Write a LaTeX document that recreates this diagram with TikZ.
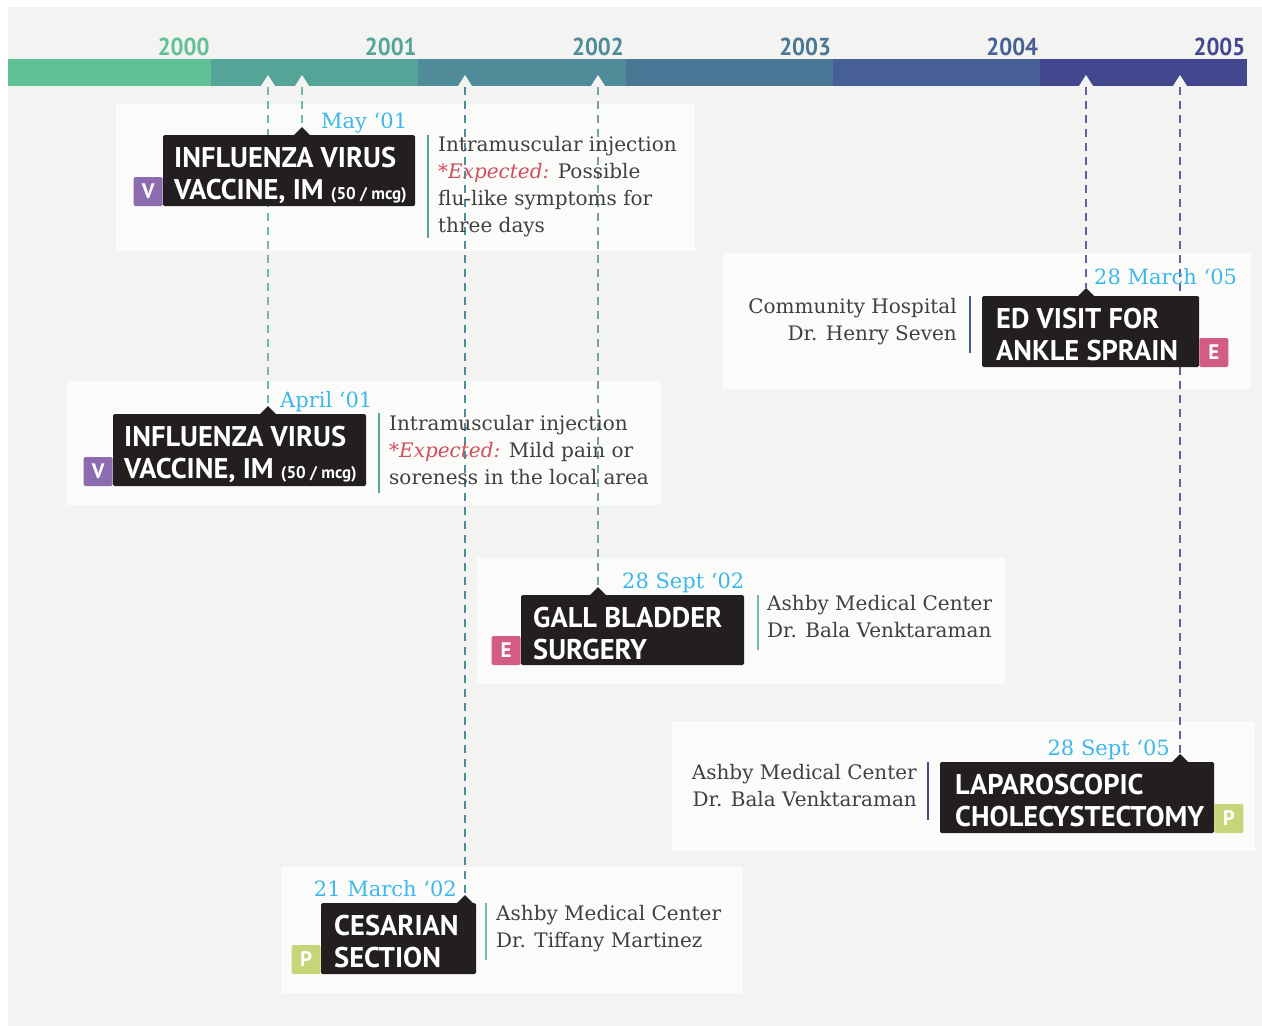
\documentclass[tikz,border=0pt]{standalone}
\usepackage{fontspec}
\setmainfont{DejaVu Serif}
\newfontfamily\dinfont{PT Sans}
\newfontfamily\yearfont[FakeStretch=0.93]{PT Sans}
\usetikzlibrary{positioning}

\definecolor{bggray}{HTML}{F3F3F1}
\definecolor{cardwhite}{HTML}{FBFBFA}
\definecolor{boxblack}{HTML}{231F20}
\definecolor{dateblue}{HTML}{3DB8EA}
\definecolor{txtgray}{HTML}{404040}
\definecolor{expred}{HTML}{CF4F5B}
\definecolor{vpurple}{HTML}{8C6BB1}
\definecolor{epink}{HTML}{D35C85}
\definecolor{pgreen}{HTML}{C5D67A}
\definecolor{yr0}{HTML}{60C196}
\definecolor{yr1}{HTML}{54A597}
\definecolor{yr2}{HTML}{4F8B98}
\definecolor{yr3}{HTML}{4A7795}
\definecolor{yr4}{HTML}{465F94}
\definecolor{yr5}{HTML}{42478F}

\begin{document}
\begin{tikzpicture}
  [x=1pt, y=-1pt,
   card/.style={fill=cardwhite},
   evbox/.style={fill=boxblack, rounded corners=1.5pt, inner sep=0pt},
   boxtxt/.style={anchor=base west, inner sep=0pt, text=white, align=left,
     font=\dinfont\bfseries\fontsize{28.5}{32}\selectfont},
   badge/.style={minimum width=29, minimum height=29, inner sep=0pt, text=white,
     rounded corners=1.5pt, font=\dinfont\bfseries\fontsize{21}{21}\selectfont},
   datelbl/.style={anchor=base west, inner sep=0pt, text=dateblue, font=\fontsize{21}{21}\selectfont},
   desc/.style={anchor=north west, inner sep=0pt, text=txtgray, align=left,
     font=\fontsize{20}{26.8}\selectfont},
   guide/.style={line width=1.1pt, dash pattern=on 8pt off 6pt},
   sepline/.style={line width=1.3pt},
   yearlbl/.style={anchor=base east, inner sep=0pt, font=\yearfont\bfseries\fontsize{24.5}{24}\selectfont}]

  \useasboundingbox (0,0) rectangle (1262,1026);
  \fill[white] (0,0) rectangle (1262,1026);
  \fill[bggray] (8,7) rectangle (1262,1026);

  % time bar
  \foreach \yr/\c [count=\i from 0] in {2000/yr0,2001/yr1,2002/yr2,2003/yr3,2004/yr4,2005/yr5}{
    \fill[\c] ({max(8,4+207.17*\i)},59) rectangle ({4+207.17*(\i+1)},86);
    \node[yearlbl, text=\c] (y\yr) at ({2.5+207.17*(\i+1)},55) {\yr};
  }
  \foreach \x [count=\n] in {268,302,465,598,1086,1180}{
    \fill[bggray] (\x-7,86) -- (\x,75) -- (\x+7,86) -- cycle;
    \coordinate (tick\n) at (\x,87);
  }

  % cards
  \fill[card] (116,104) rectangle (695,251);
  \fill[card] (66,381) rectangle (661,505);
  \fill[card] (723,253) rectangle (1251,389);
  \fill[card] (477,558) rectangle (1005,684);
  \fill[card] (672,721) rectangle (1255,851);
  \fill[card] (281,867) rectangle (743,993);

  % pointers
  \coordinate (may01p) at (302,127);
  \coordinate (apr01p) at (268,406);
  \coordinate (mar05p) at (1086,288);
  \coordinate (sep02p) at (598,587);
  \coordinate (sep05p) at (1180,754);
  \coordinate (mar02p) at (465,895);

  % guides
  \draw[guide, yr1!80] (tick1) -- (apr01p);
  \draw[guide, yr1!80] (tick2) -- (may01p);
  \draw[guide, yr2] (tick3) -- (mar02p);
  \draw[guide, yr2!80] (tick4) -- (sep02p);
  \draw[guide, yr5!85] (tick5) -- (mar05p);
  \draw[guide, yr5!85] (tick6) -- (sep05p);

  % May '01
  \node (may01) [evbox, minimum width=252, minimum height=71] at (289,170.5) {};
  \fill[boxblack] (may01p) -- ++(8,8) -- ++(-16,0) -- cycle;
  \node (may01b) [badge, fill=vpurple, anchor=south east] at (may01.south west) {V};
  \node (may01t) [boxtxt] at (174,199) {INFLUENZA VIRUS\\VACCINE, IM {\dinfont\fontsize{17}{17}\selectfont(50 / mcg)}};
  \node (may01d) [datelbl] at (321,128) {May ‘01};
  \draw[sepline, yr1] (428,135) -- (428,238);
  \node (may01x) [desc] at (438,136.5) {Intramuscular injection\\{\color{expred}\itshape *Expected:} Possible\\flu-like symptoms for\\three days};

  % April '01
  \node (apr01) [evbox, minimum width=253, minimum height=72] at (239.5,450) {};
  \fill[boxblack] (apr01p) -- ++(8,8) -- ++(-16,0) -- cycle;
  \node (apr01b) [badge, fill=vpurple, anchor=south east] at (apr01.south west) {V};
  \node (apr01t) [boxtxt] at (124,478) {INFLUENZA VIRUS\\VACCINE, IM {\dinfont\fontsize{17}{17}\selectfont(50 / mcg)}};
  \node (apr01d) [datelbl] at (280,407) {April ‘01};
  \draw[sepline, yr1] (379,413) -- (379,493);
  \node (apr01x) [desc] at (389,415.5) {Intramuscular injection\\{\color{expred}\itshape *Expected:} Mild pain or\\soreness in the local area};

  % 28 March '05
  \node (mar05) [evbox, minimum width=217, minimum height=71] at (1090.5,331.5) {};
  \fill[boxblack] (mar05p) -- ++(8,8) -- ++(-16,0) -- cycle;
  \node (mar05b) [badge, fill=epink, anchor=south west] at (mar05.south east) {E};
  \node (mar05t) [boxtxt] at (996,360) {ED VISIT FOR\\ANKLE SPRAIN};
  \node (mar05d) [datelbl] at (1094,284) {28 March ‘05};
  \draw[sepline, yr4] (970,296) -- (970,353);
  \node (mar05x) [desc, anchor=north east, align=right] at (957,298.5) {Community Hospital\\Dr. Henry Seven};

  % 28 Sept '02
  \node (sep02) [evbox, minimum width=223, minimum height=70] at (632.5,630) {};
  \fill[boxblack] (sep02p) -- ++(8,8) -- ++(-16,0) -- cycle;
  \node (sep02b) [badge, fill=epink, anchor=south east] at (sep02.south west) {E};
  \node (sep02t) [boxtxt] at (533,659) {GALL BLADDER\\SURGERY};
  \node (sep02d) [datelbl] at (622,588) {28 Sept ‘02};
  \draw[sepline, yr1!80] (758,595) -- (758,650);
  \node (sep02x) [desc] at (767,595.5) {Ashby Medical Center\\Dr. Bala Venktaraman};

  % 28 Sept '05
  \node (sep05) [evbox, minimum width=274, minimum height=71] at (1077,797.5) {};
  \fill[boxblack] (sep05p) -- ++(8,8) -- ++(-16,0) -- cycle;
  \node (sep05b) [badge, fill=pgreen, anchor=south west] at (sep05.south east) {P};
  \node (sep05t) [boxtxt] at (955,826) {LAPAROSCOPIC\\CHOLECYSTECTOMY};
  \node (sep05d) [datelbl, anchor=base east] at (1170,755) {28 Sept ‘05};
  \draw[sepline, yr5] (928,762) -- (928,820);
  \node (sep05x) [desc, anchor=north east, align=right] at (917,764.5) {Ashby Medical Center\\Dr. Bala Venktaraman};

  % 21 March '02
  \node (mar02) [evbox, minimum width=155, minimum height=71] at (398.5,938.5) {};
  \fill[boxblack] (mar02p) -- ++(8,8) -- ++(-16,0) -- cycle;
  \node (mar02b) [badge, fill=pgreen, anchor=south east] at (mar02.south west) {P};
  \node (mar02t) [boxtxt] at (334,967) {CESARIAN\\SECTION};
  \node (mar02d) [datelbl, anchor=base east] at (457,896) {21 March ‘02};
  \draw[sepline, yr1!80] (486,903) -- (486,960);
  \node (mar02x) [desc] at (496,905.5) {Ashby Medical Center\\Dr. Tiffany Martinez};
\end{tikzpicture}
\end{document}
